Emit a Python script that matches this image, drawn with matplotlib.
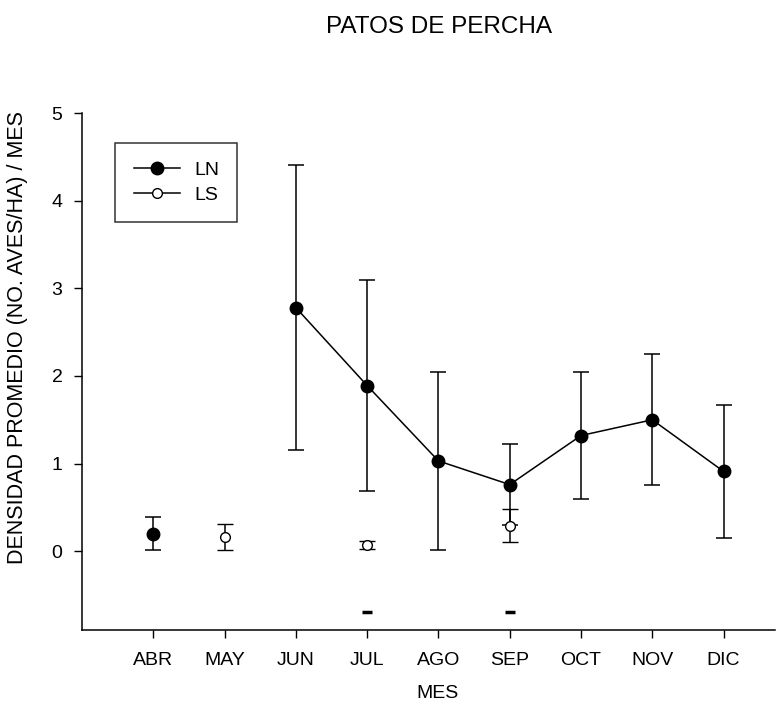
import numpy as np
import matplotlib
matplotlib.use("Agg")
import matplotlib.pyplot as plt
from matplotlib.lines import Line2D

plt.rcParams['font.family'] = ['Liberation Sans', 'DejaVu Sans']

# monthly mean density (birds/ha) and error bars
months = ['ABR', 'MAY', 'JUN', 'JUL', 'AGO', 'SEP', 'OCT', 'NOV', 'DIC']
ln_mean = [0.20, np.nan, 2.78, 1.89, 1.03, 0.76, 1.32, 1.50, 0.91]
ln_err = [0.19, np.nan, 1.63, 1.20, 1.02, 0.46, 0.73, 0.75, 0.76]
ls_mean = [np.nan, 0.16, np.nan, 0.07, np.nan, 0.29, np.nan, np.nan, np.nan]
ls_err = [np.nan, 0.15, np.nan, 0.05, np.nan, 0.19, np.nan, np.nan, np.nan]
dash_months = ['JUL', 'SEP']
dash_y = [-0.70, -0.70]

x = np.arange(len(months))

fig = plt.figure(figsize=(7.83, 7.09), dpi=100)
ax = fig.add_axes([0.1047, 0.1114, 0.885, 0.729])

ax.errorbar(x, ln_mean, yerr=ln_err, color='black', lw=1.1, capsize=6,
            capthick=1.1, elinewidth=1.1, marker='o', markersize=9,
            markerfacecolor='black', markeredgecolor='black', zorder=3)
ax.errorbar(x, ls_mean, yerr=ls_err, color='black', lw=1.1, capsize=6,
            capthick=1.1, elinewidth=1.1, marker='o', markersize=7,
            markerfacecolor='white', markeredgecolor='black', mew=1.0,
            zorder=4)

dash_x = [months.index(m) for m in dash_months]
ax.plot(dash_x, dash_y, ls='none', marker='_', markersize=7, mew=2.5, color='black')

ax.set_xlim(-1, 8.72)
ax.set_ylim(-0.9, 5)
ax.set_xticks(x)
ax.set_xticklabels(months)
ax.set_yticks([0, 1, 2, 3, 4, 5])
ax.tick_params(direction='out', length=6, width=1, labelsize=14)
ax.tick_params(axis='x', pad=10)
ax.tick_params(axis='y', pad=8)
ax.spines['top'].set_visible(False)
ax.spines['right'].set_visible(False)
for s in ('left', 'bottom'):
    ax.spines[s].set_linewidth(1.1)

ax.set_ylabel('DENSIDAD PROMEDIO (NO. AVES/HA) / MES', fontsize=15.5)
ax.yaxis.set_label_coords(-0.078, 0.566)
ax.set_xlabel('MES', fontsize=14)
ax.xaxis.set_label_coords((438 - 82) / 693, -0.106)

handles = [
    Line2D([], [], color='black', lw=1.1, marker='o', markersize=9,
           markerfacecolor='black', markeredgecolor='black'),
    Line2D([], [], color='black', lw=1.1, marker='o', markersize=7,
           markerfacecolor='white', markeredgecolor='black'),
]
leg = ax.legend(handles, ['LN', 'LS'], loc='upper left',
                bbox_to_anchor=(0.048, 0.942), frameon=True,
                fancybox=False, edgecolor='black', fontsize=14,
                handlelength=2.4, handletextpad=0.7, borderpad=0.95,
                labelspacing=0.35, borderaxespad=0)
leg.get_frame().set_linewidth(1.1)

fig.text(0.561, 0.962, 'PATOS DE PERCHA', ha='center', va='center', fontsize=17.5)

fig.savefig('out.png', dpi=100)
